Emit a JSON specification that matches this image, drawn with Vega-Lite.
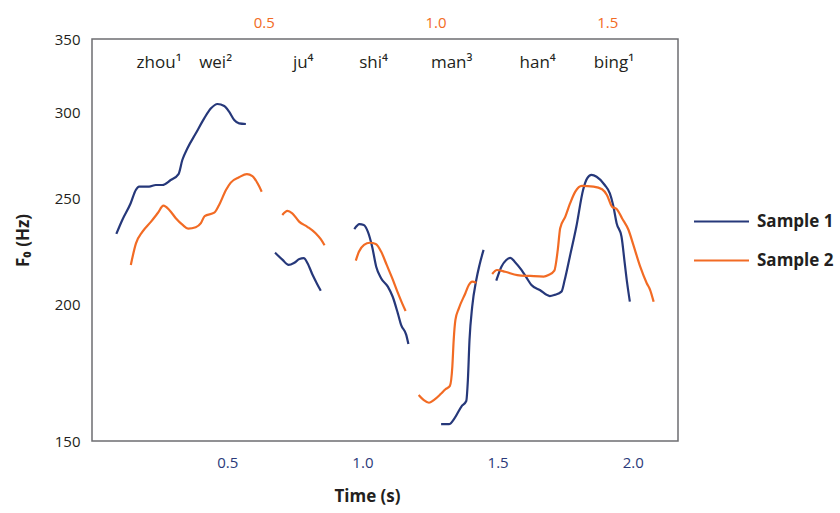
{
  "$schema": "https://vega.github.io/schema/vega-lite/v6.json",
  "autosize": {"type": "none"},
  "padding": {"left": 92, "top": 39, "right": 162, "bottom": 72},
  "width": 586,
  "height": 402,
  "background": "white",
  "config": {
    "font": "Open Sans",
    "view": {"stroke": "#6d6e71", "strokeWidth": 1.5},
    "axis": {"grid": false, "ticks": false, "domain": false, "labelFont": "Open Sans", "labelFontSize": 14, "titleFont": "Open Sans"}
  },
  "datasets": {
    "s1": [
      {"sample": "Sample 1", "seg": 1, "t": 0.090, "f": 232.1},
      {"sample": "Sample 1", "seg": 1, "t": 0.112, "f": 239.0},
      {"sample": "Sample 1", "seg": 1, "t": 0.143, "f": 247.6},
      {"sample": "Sample 1", "seg": 1, "t": 0.162, "f": 254.6},
      {"sample": "Sample 1", "seg": 1, "t": 0.174, "f": 256.4},
      {"sample": "Sample 1", "seg": 1, "t": 0.211, "f": 256.4},
      {"sample": "Sample 1", "seg": 1, "t": 0.236, "f": 257.3},
      {"sample": "Sample 1", "seg": 1, "t": 0.260, "f": 257.3},
      {"sample": "Sample 1", "seg": 1, "t": 0.291, "f": 260.0},
      {"sample": "Sample 1", "seg": 1, "t": 0.320, "f": 263.3},
      {"sample": "Sample 1", "seg": 1, "t": 0.334, "f": 271.2},
      {"sample": "Sample 1", "seg": 1, "t": 0.353, "f": 278.0},
      {"sample": "Sample 1", "seg": 1, "t": 0.384, "f": 286.9},
      {"sample": "Sample 1", "seg": 1, "t": 0.415, "f": 296.1},
      {"sample": "Sample 1", "seg": 1, "t": 0.440, "f": 302.4},
      {"sample": "Sample 1", "seg": 1, "t": 0.464, "f": 305.2},
      {"sample": "Sample 1", "seg": 1, "t": 0.489, "f": 303.9},
      {"sample": "Sample 1", "seg": 1, "t": 0.507, "f": 300.3},
      {"sample": "Sample 1", "seg": 1, "t": 0.526, "f": 295.1},
      {"sample": "Sample 1", "seg": 1, "t": 0.544, "f": 293.0},
      {"sample": "Sample 1", "seg": 1, "t": 0.569, "f": 292.6},
      {"sample": "Sample 1", "seg": 2, "t": 0.677, "f": 223.1},
      {"sample": "Sample 1", "seg": 2, "t": 0.705, "f": 219.7},
      {"sample": "Sample 1", "seg": 2, "t": 0.727, "f": 217.4},
      {"sample": "Sample 1", "seg": 2, "t": 0.748, "f": 218.4},
      {"sample": "Sample 1", "seg": 2, "t": 0.767, "f": 220.1},
      {"sample": "Sample 1", "seg": 2, "t": 0.783, "f": 220.5},
      {"sample": "Sample 1", "seg": 2, "t": 0.797, "f": 218.2},
      {"sample": "Sample 1", "seg": 2, "t": 0.816, "f": 212.8},
      {"sample": "Sample 1", "seg": 2, "t": 0.831, "f": 209.2},
      {"sample": "Sample 1", "seg": 2, "t": 0.846, "f": 205.9},
      {"sample": "Sample 1", "seg": 3, "t": 0.970, "f": 234.4},
      {"sample": "Sample 1", "seg": 3, "t": 0.989, "f": 236.9},
      {"sample": "Sample 1", "seg": 3, "t": 1.005, "f": 236.5},
      {"sample": "Sample 1", "seg": 3, "t": 1.020, "f": 233.2},
      {"sample": "Sample 1", "seg": 3, "t": 1.036, "f": 225.9},
      {"sample": "Sample 1", "seg": 3, "t": 1.051, "f": 216.6},
      {"sample": "Sample 1", "seg": 3, "t": 1.069, "f": 211.4},
      {"sample": "Sample 1", "seg": 3, "t": 1.094, "f": 207.7},
      {"sample": "Sample 1", "seg": 3, "t": 1.112, "f": 203.3},
      {"sample": "Sample 1", "seg": 3, "t": 1.131, "f": 196.3},
      {"sample": "Sample 1", "seg": 3, "t": 1.143, "f": 191.6},
      {"sample": "Sample 1", "seg": 3, "t": 1.162, "f": 187.6},
      {"sample": "Sample 1", "seg": 3, "t": 1.170, "f": 184.0},
      {"sample": "Sample 1", "seg": 4, "t": 1.291, "f": 155.4},
      {"sample": "Sample 1", "seg": 4, "t": 1.320, "f": 155.4},
      {"sample": "Sample 1", "seg": 4, "t": 1.341, "f": 157.4},
      {"sample": "Sample 1", "seg": 4, "t": 1.366, "f": 161.3},
      {"sample": "Sample 1", "seg": 4, "t": 1.384, "f": 163.2},
      {"sample": "Sample 1", "seg": 4, "t": 1.390, "f": 170.6},
      {"sample": "Sample 1", "seg": 4, "t": 1.396, "f": 185.6},
      {"sample": "Sample 1", "seg": 4, "t": 1.406, "f": 199.1},
      {"sample": "Sample 1", "seg": 4, "t": 1.421, "f": 210.6},
      {"sample": "Sample 1", "seg": 4, "t": 1.433, "f": 217.4},
      {"sample": "Sample 1", "seg": 4, "t": 1.448, "f": 224.4},
      {"sample": "Sample 1", "seg": 5, "t": 1.495, "f": 210.3},
      {"sample": "Sample 1", "seg": 5, "t": 1.514, "f": 216.6},
      {"sample": "Sample 1", "seg": 5, "t": 1.532, "f": 219.7},
      {"sample": "Sample 1", "seg": 5, "t": 1.547, "f": 220.7},
      {"sample": "Sample 1", "seg": 5, "t": 1.563, "f": 218.9},
      {"sample": "Sample 1", "seg": 5, "t": 1.588, "f": 215.1},
      {"sample": "Sample 1", "seg": 5, "t": 1.606, "f": 211.8},
      {"sample": "Sample 1", "seg": 5, "t": 1.625, "f": 208.4},
      {"sample": "Sample 1", "seg": 5, "t": 1.656, "f": 206.2},
      {"sample": "Sample 1", "seg": 5, "t": 1.693, "f": 203.6},
      {"sample": "Sample 1", "seg": 5, "t": 1.711, "f": 204.1},
      {"sample": "Sample 1", "seg": 5, "t": 1.736, "f": 205.5},
      {"sample": "Sample 1", "seg": 5, "t": 1.748, "f": 210.6},
      {"sample": "Sample 1", "seg": 5, "t": 1.767, "f": 221.2},
      {"sample": "Sample 1", "seg": 5, "t": 1.791, "f": 235.6},
      {"sample": "Sample 1", "seg": 5, "t": 1.816, "f": 254.6},
      {"sample": "Sample 1", "seg": 5, "t": 1.831, "f": 260.9},
      {"sample": "Sample 1", "seg": 5, "t": 1.847, "f": 262.8},
      {"sample": "Sample 1", "seg": 5, "t": 1.866, "f": 261.8},
      {"sample": "Sample 1", "seg": 5, "t": 1.896, "f": 257.3},
      {"sample": "Sample 1", "seg": 5, "t": 1.915, "f": 252.8},
      {"sample": "Sample 1", "seg": 5, "t": 1.927, "f": 246.7},
      {"sample": "Sample 1", "seg": 5, "t": 1.940, "f": 237.4},
      {"sample": "Sample 1", "seg": 5, "t": 1.958, "f": 230.8},
      {"sample": "Sample 1", "seg": 5, "t": 1.970, "f": 218.2},
      {"sample": "Sample 1", "seg": 5, "t": 1.979, "f": 209.2},
      {"sample": "Sample 1", "seg": 5, "t": 1.989, "f": 201.2}
    ],
    "s2": [
      {"sample": "Sample 2", "seg": 1, "t": 0.113, "f": 217.4},
      {"sample": "Sample 2", "seg": 1, "t": 0.128, "f": 227.5},
      {"sample": "Sample 2", "seg": 1, "t": 0.147, "f": 233.2},
      {"sample": "Sample 2", "seg": 1, "t": 0.172, "f": 238.2},
      {"sample": "Sample 2", "seg": 1, "t": 0.191, "f": 242.4},
      {"sample": "Sample 2", "seg": 1, "t": 0.208, "f": 246.3},
      {"sample": "Sample 2", "seg": 1, "t": 0.225, "f": 244.1},
      {"sample": "Sample 2", "seg": 1, "t": 0.244, "f": 239.9},
      {"sample": "Sample 2", "seg": 1, "t": 0.264, "f": 236.5},
      {"sample": "Sample 2", "seg": 1, "t": 0.280, "f": 234.7},
      {"sample": "Sample 2", "seg": 1, "t": 0.302, "f": 235.4},
      {"sample": "Sample 2", "seg": 1, "t": 0.317, "f": 237.4},
      {"sample": "Sample 2", "seg": 1, "t": 0.328, "f": 241.0},
      {"sample": "Sample 2", "seg": 1, "t": 0.356, "f": 242.7},
      {"sample": "Sample 2", "seg": 1, "t": 0.370, "f": 246.7},
      {"sample": "Sample 2", "seg": 1, "t": 0.390, "f": 254.6},
      {"sample": "Sample 2", "seg": 1, "t": 0.404, "f": 258.6},
      {"sample": "Sample 2", "seg": 1, "t": 0.428, "f": 261.5},
      {"sample": "Sample 2", "seg": 1, "t": 0.451, "f": 263.3},
      {"sample": "Sample 2", "seg": 1, "t": 0.467, "f": 262.2},
      {"sample": "Sample 2", "seg": 1, "t": 0.482, "f": 258.2},
      {"sample": "Sample 2", "seg": 1, "t": 0.494, "f": 253.7},
      {"sample": "Sample 2", "seg": 2, "t": 0.554, "f": 241.5},
      {"sample": "Sample 2", "seg": 2, "t": 0.569, "f": 243.6},
      {"sample": "Sample 2", "seg": 2, "t": 0.583, "f": 242.4},
      {"sample": "Sample 2", "seg": 2, "t": 0.603, "f": 238.2},
      {"sample": "Sample 2", "seg": 2, "t": 0.627, "f": 235.6},
      {"sample": "Sample 2", "seg": 2, "t": 0.651, "f": 232.4},
      {"sample": "Sample 2", "seg": 2, "t": 0.666, "f": 229.5},
      {"sample": "Sample 2", "seg": 2, "t": 0.677, "f": 226.6},
      {"sample": "Sample 2", "seg": 3, "t": 0.768, "f": 219.4},
      {"sample": "Sample 2", "seg": 3, "t": 0.777, "f": 223.5},
      {"sample": "Sample 2", "seg": 3, "t": 0.792, "f": 226.8},
      {"sample": "Sample 2", "seg": 3, "t": 0.809, "f": 227.8},
      {"sample": "Sample 2", "seg": 3, "t": 0.826, "f": 227.2},
      {"sample": "Sample 2", "seg": 3, "t": 0.842, "f": 223.5},
      {"sample": "Sample 2", "seg": 3, "t": 0.858, "f": 217.4},
      {"sample": "Sample 2", "seg": 3, "t": 0.874, "f": 211.4},
      {"sample": "Sample 2", "seg": 3, "t": 0.889, "f": 205.5},
      {"sample": "Sample 2", "seg": 3, "t": 0.903, "f": 200.5},
      {"sample": "Sample 2", "seg": 3, "t": 0.913, "f": 197.3},
      {"sample": "Sample 2", "seg": 4, "t": 0.951, "f": 165.3},
      {"sample": "Sample 2", "seg": 4, "t": 0.966, "f": 163.5},
      {"sample": "Sample 2", "seg": 4, "t": 0.981, "f": 162.6},
      {"sample": "Sample 2", "seg": 4, "t": 0.995, "f": 163.5},
      {"sample": "Sample 2", "seg": 4, "t": 1.015, "f": 165.6},
      {"sample": "Sample 2", "seg": 4, "t": 1.029, "f": 167.3},
      {"sample": "Sample 2", "seg": 4, "t": 1.042, "f": 168.5},
      {"sample": "Sample 2", "seg": 4, "t": 1.049, "f": 175.4},
      {"sample": "Sample 2", "seg": 4, "t": 1.053, "f": 185.6},
      {"sample": "Sample 2", "seg": 4, "t": 1.058, "f": 193.6},
      {"sample": "Sample 2", "seg": 4, "t": 1.068, "f": 198.4},
      {"sample": "Sample 2", "seg": 4, "t": 1.087, "f": 204.8},
      {"sample": "Sample 2", "seg": 4, "t": 1.097, "f": 208.4},
      {"sample": "Sample 2", "seg": 4, "t": 1.107, "f": 209.9},
      {"sample": "Sample 2", "seg": 4, "t": 1.119, "f": 209.4},
      {"sample": "Sample 2", "seg": 5, "t": 1.165, "f": 213.3},
      {"sample": "Sample 2", "seg": 5, "t": 1.179, "f": 215.1},
      {"sample": "Sample 2", "seg": 5, "t": 1.203, "f": 214.3},
      {"sample": "Sample 2", "seg": 5, "t": 1.238, "f": 212.8},
      {"sample": "Sample 2", "seg": 5, "t": 1.276, "f": 212.4},
      {"sample": "Sample 2", "seg": 5, "t": 1.315, "f": 212.1},
      {"sample": "Sample 2", "seg": 5, "t": 1.329, "f": 212.8},
      {"sample": "Sample 2", "seg": 5, "t": 1.346, "f": 214.8},
      {"sample": "Sample 2", "seg": 5, "t": 1.356, "f": 224.4},
      {"sample": "Sample 2", "seg": 5, "t": 1.363, "f": 234.9},
      {"sample": "Sample 2", "seg": 5, "t": 1.378, "f": 240.7},
      {"sample": "Sample 2", "seg": 5, "t": 1.392, "f": 247.6},
      {"sample": "Sample 2", "seg": 5, "t": 1.407, "f": 253.7},
      {"sample": "Sample 2", "seg": 5, "t": 1.426, "f": 256.8},
      {"sample": "Sample 2", "seg": 5, "t": 1.460, "f": 256.4},
      {"sample": "Sample 2", "seg": 5, "t": 1.485, "f": 255.0},
      {"sample": "Sample 2", "seg": 5, "t": 1.499, "f": 251.9},
      {"sample": "Sample 2", "seg": 5, "t": 1.514, "f": 245.8},
      {"sample": "Sample 2", "seg": 5, "t": 1.528, "f": 244.5},
      {"sample": "Sample 2", "seg": 5, "t": 1.543, "f": 239.9},
      {"sample": "Sample 2", "seg": 5, "t": 1.562, "f": 234.0},
      {"sample": "Sample 2", "seg": 5, "t": 1.576, "f": 226.8},
      {"sample": "Sample 2", "seg": 5, "t": 1.596, "f": 216.6},
      {"sample": "Sample 2", "seg": 5, "t": 1.615, "f": 209.2},
      {"sample": "Sample 2", "seg": 5, "t": 1.625, "f": 206.2},
      {"sample": "Sample 2", "seg": 5, "t": 1.635, "f": 201.2}
    ],
    "words": [
      {"word": "zhou¹", "t": 0.248, "f": 333},
      {"word": "wei²", "t": 0.457, "f": 333},
      {"word": "ju⁴", "t": 0.781, "f": 333},
      {"word": "shi⁴", "t": 1.041, "f": 333},
      {"word": "man³", "t": 1.330, "f": 333},
      {"word": "han⁴", "t": 1.648, "f": 333},
      {"word": "bing¹", "t": 1.930, "f": 333}
    ]
  },
  "encoding": {
    "y": {
      "field": "f", "type": "quantitative",
      "scale": {"type": "log", "domain": [150, 350], "nice": false},
      "axis": {"values": [150, 200, 250, 300, 350], "labelColor": "#231f20", "labelFontSize": 15, "labelPadding": 12,
               "title": "F₀ (Hz)", "titleFontSize": 17, "titleFontWeight": "bold", "titleColor": "#231f20", "titlePadding": 22}
    }
  },
  "layer": [
    {
      "layer": [
        {
          "data": {"name": "s1"},
          "mark": {"type": "line", "interpolate": "monotone", "strokeWidth": 2.2},
          "encoding": {
            "x": {"field": "t", "type": "quantitative",
                  "scale": {"domain": [0, 2.167], "nice": false, "zero": false},
                  "axis": {"orient": "bottom", "values": [0.5, 1, 1.5, 2], "format": ".1f", "labelColor": "#2b3a7a", "labelFontSize": 15, "labelPadding": 14,
                           "title": "Time (s)", "titleFontSize": 17, "titleFontWeight": "bold", "titleColor": "#231f20", "titlePadding": 18, "titleX": 275}},
            "detail": {"field": "seg"},
            "color": {"field": "sample", "type": "nominal",
                      "scale": {"domain": ["Sample 1", "Sample 2"], "range": ["#26387a", "#f26b24"]},
                      "legend": {"orient": "none", "legendX": 601, "legendY": 154, "title": null, "symbolType": "stroke", "symbolSize": 3025, "symbolStrokeWidth": 2,
                                 "labelFontSize": 17, "labelFontWeight": "bold", "labelColor": "#231f20", "labelOffset": 7, "rowPadding": 2}}
          }
        },
        {
          "data": {"name": "words"},
          "mark": {"type": "text", "fontSize": 17, "color": "#231f20", "baseline": "middle", "align": "center"},
          "encoding": {
            "x": {"field": "t", "type": "quantitative"},
            "text": {"field": "word"}
          }
        }
      ]
    },
    {
      "data": {"name": "s2"},
      "mark": {"type": "line", "interpolate": "monotone", "strokeWidth": 2.2},
      "encoding": {
        "x": {"field": "t", "type": "quantitative",
              "scale": {"domain": [0, 1.706], "nice": false, "zero": false},
              "axis": {"orient": "top", "values": [0.5, 1, 1.5], "format": ".1f", "labelColor": "#f26b24", "labelFontSize": 15, "labelPadding": 9, "title": null}},
        "detail": {"field": "seg"},
        "color": {"field": "sample", "type": "nominal"}
      }
    }
  ],
  "resolve": {"scale": {"x": "independent"}, "axis": {"x": "independent"}}
}
